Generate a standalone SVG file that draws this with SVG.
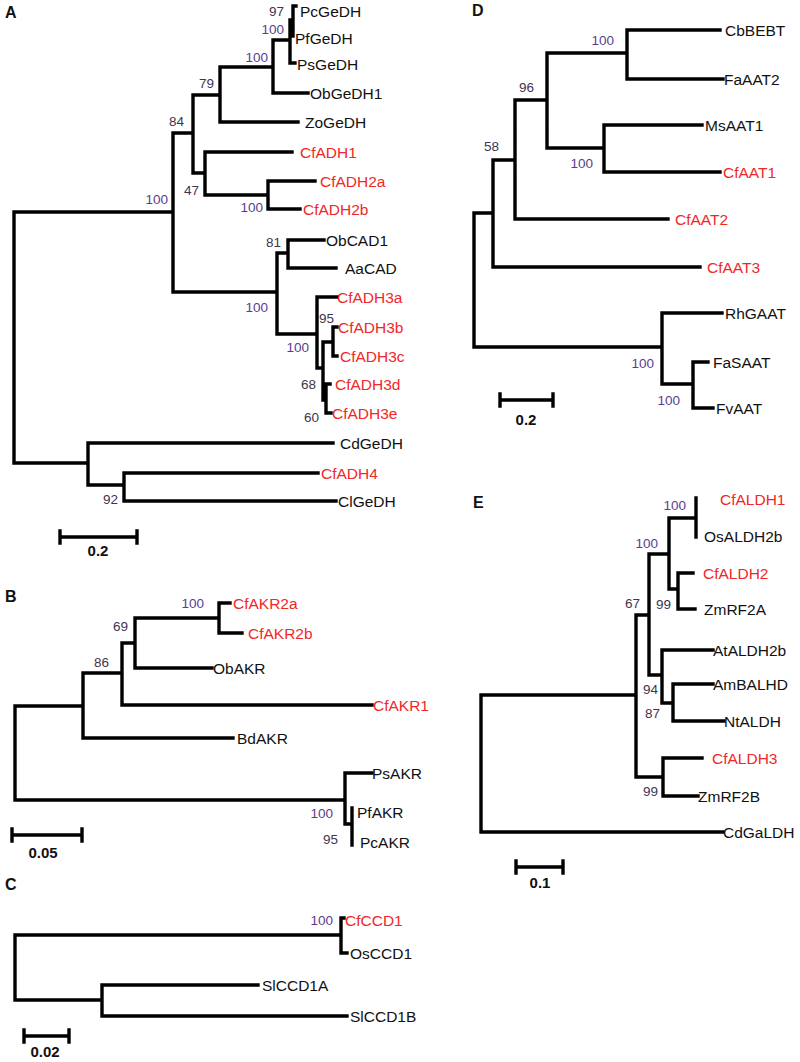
<svg xmlns="http://www.w3.org/2000/svg" width="800" height="1062" viewBox="0 0 800 1062">
<style>
.br{fill:none;stroke:#000;stroke-width:3.4;stroke-linecap:square}
.lf{font-family:"Liberation Sans",Arial,sans-serif;font-size:15.5px;fill:#111;dominant-baseline:central}
.red{fill:#f02828}
.bs{font-family:"Liberation Sans",Arial,sans-serif;font-size:13.5px;fill:#3c3650;text-anchor:end}
.bp{fill:#5b3d8c}
.pl{font-family:"Liberation Sans",Arial,sans-serif;font-size:16px;font-weight:bold;fill:#111}
.sc{font-family:"Liberation Sans",Arial,sans-serif;font-size:15px;font-weight:bold;fill:#111;text-anchor:middle}
</style>
<rect width="800" height="1062" fill="#fff"/>
<g id="connectors">
<path class="br" d="M14,212V463M14,212H173M14,463H88M173,133V292M173,133H193M173,292H277M193,95V173M193,95H220M193,173H205M220,67V122M220,67H273M220,122H298M273,40V93M273,40H290M273,93H308M290,20V63M290,63H295M290,20H293M293,6V36M293,6H296M205,152V195M205,152H292M205,195H268M268,181V209M268,181H315M268,209H300M277,253V334M277,253H288M277,334H317M288,240V268M288,240H324M288,268H336M317,297V368M317,297H337M317,368H323M323,342V400M323,342H333M333,327V356M333,327H337M333,356H337M323,400H326M326,384V413M326,384H330M326,413H331M88,443V485M88,443H333M88,485H124M124,473V501M124,473H318M124,501H336"/>
<path class="br" d="M60,537H137M60,531V543M137,531V543"/>
<path class="br" d="M15,706V800M15,706H83M15,800H345M83,673V738M83,673H122M83,738H233M122,643V705M122,643H135M122,705H372M135,618V668M135,618H219M135,668H212M219,603V633M219,603H230M219,633H242M345,773V824M345,773H372M345,824H352M352,808V845"/>
<path class="br" d="M12,835H82M12,829V841M82,829V841"/>
<path class="br" d="M15,935V1000M15,935H341M15,1000H102M341,918V953M341,918H344M341,953H347M102,985V1016M102,985H258M102,1016H347"/>
<path class="br" d="M24,1036H69M24,1030V1042M69,1030V1042"/>
<path class="br" d="M474,213V347M474,213H493M474,347H662M493,160V267M493,160H515M493,267H700M515,100V219M515,100H547M515,219H668M547,53V148M547,53H627M547,148H604M627,30V79M627,30H720M627,79H723M604,125V172M604,125H702M604,172H720M662,313V384M662,313H722M662,384H693M693,362V408M693,362H708M693,408H713"/>
<path class="br" d="M500,400H553M500,394V406M553,394V406"/>
<path class="br" d="M481,695V832M481,695H636M481,832H723M636,615V777M636,615H649M636,777H663M649,554V675M649,554H669M649,675H662M669,518V589M669,518H696M669,589H678M696,498V537M678,573V609M678,573H693M678,609H695M662,650V703M662,650H713M662,703H673M673,684V721M673,684H713M673,721H724M663,758V796M663,758H702M663,796H698"/>
<path class="br" d="M516,867H563M516,861V873M563,861V873"/>
</g>
<g id="panel-labels">
<text class="pl" x="5" y="18">A</text>
<text class="pl" x="5" y="602">B</text>
<text class="pl" x="5" y="890">C</text>
<text class="pl" x="472" y="16">D</text>
<text class="pl" x="473" y="508">E</text>
</g>
<g id="scale-bars">
<text class="sc" x="98" y="556">0.2</text>
<text class="sc" x="43" y="858">0.05</text>
<text class="sc" x="45" y="1057">0.02</text>
<text class="sc" x="526" y="425">0.2</text>
<text class="sc" x="540" y="888">0.1</text>
</g>
<g id="A-leaves">
<g id="PcGeDH"><text class="lf" x="300" y="11">PcGeDH</text></g>
<g id="PfGeDH"><text class="lf" x="295" y="38">PfGeDH</text></g>
<g id="PsGeDH"><text class="lf" x="297" y="64">PsGeDH</text></g>
<g id="ObGeDH1"><text class="lf" x="310" y="93">ObGeDH1</text></g>
<g id="ZoGeDH"><text class="lf" x="305" y="122">ZoGeDH</text></g>
<g id="CfADH1"><text class="lf red" x="300" y="152">CfADH1</text></g>
<g id="CfADH2a"><text class="lf red" x="320" y="181">CfADH2a</text></g>
<g id="CfADH2b"><text class="lf red" x="303" y="209">CfADH2b</text></g>
<g id="ObCAD1"><text class="lf" x="326" y="240">ObCAD1</text></g>
<g id="AaCAD"><text class="lf" x="345" y="268">AaCAD</text></g>
<g id="CfADH3a"><text class="lf red" x="337" y="297">CfADH3a</text></g>
<g id="CfADH3b"><text class="lf red" x="338" y="327">CfADH3b</text></g>
<g id="CfADH3c"><text class="lf red" x="340" y="356">CfADH3c</text></g>
<g id="CfADH3d"><text class="lf red" x="335" y="384">CfADH3d</text></g>
<g id="CfADH3e"><text class="lf red" x="332" y="413">CfADH3e</text></g>
<g id="CdGeDH"><text class="lf" x="340" y="443">CdGeDH</text></g>
<g id="CfADH4"><text class="lf red" x="321" y="473">CfADH4</text></g>
<g id="ClGeDH"><text class="lf" x="338" y="501">ClGeDH</text></g>
</g>
<g id="A-support">
<text class="bs" x="284" y="16">97</text>
<text class="bs bp" x="284" y="34">100</text>
<text class="bs bp" x="268" y="62">100</text>
<text class="bs" x="214" y="88">79</text>
<text class="bs" x="184" y="126">84</text>
<text class="bs" x="199" y="195">47</text>
<text class="bs bp" x="263" y="212">100</text>
<text class="bs bp" x="168" y="204">100</text>
<text class="bs" x="281" y="247">81</text>
<text class="bs bp" x="268" y="312">100</text>
<text class="bs" x="334" y="323">95</text>
<text class="bs bp" x="309" y="352">100</text>
<text class="bs" x="316" y="389">68</text>
<text class="bs" x="319" y="422">60</text>
<text class="bs" x="118" y="504">92</text>
</g>
<g id="B-leaves">
<g id="CfAKR2a"><text class="lf red" x="233" y="603">CfAKR2a</text></g>
<g id="CfAKR2b"><text class="lf red" x="248" y="633">CfAKR2b</text></g>
<g id="ObAKR"><text class="lf" x="213" y="668">ObAKR</text></g>
<g id="CfAKR1"><text class="lf red" x="373" y="705">CfAKR1</text></g>
<g id="BdAKR"><text class="lf" x="237" y="738">BdAKR</text></g>
<g id="PsAKR"><text class="lf" x="372" y="773">PsAKR</text></g>
<g id="PfAKR"><text class="lf" x="357" y="812">PfAKR</text></g>
<g id="PcAKR"><text class="lf" x="360" y="842">PcAKR</text></g>
</g>
<g id="B-support">
<text class="bs bp" x="204" y="608">100</text>
<text class="bs" x="128" y="631">69</text>
<text class="bs" x="109" y="667">86</text>
<text class="bs bp" x="333" y="818">100</text>
<text class="bs" x="338" y="844">95</text>
</g>
<g id="C-leaves">
<g id="CfCCD1"><text class="lf red" x="345" y="920">CfCCD1</text></g>
<g id="OsCCD1"><text class="lf" x="350" y="953">OsCCD1</text></g>
<g id="SlCCD1A"><text class="lf" x="262" y="985">SlCCD1A</text></g>
<g id="SlCCD1B"><text class="lf" x="350" y="1016">SlCCD1B</text></g>
</g>
<g id="C-support">
<text class="bs bp" x="333" y="925">100</text>
</g>
<g id="D-leaves">
<g id="CbBEBT"><text class="lf" x="725" y="30">CbBEBT</text></g>
<g id="FaAAT2"><text class="lf" x="724" y="79">FaAAT2</text></g>
<g id="MsAAT1"><text class="lf" x="705" y="125">MsAAT1</text></g>
<g id="CfAAT1"><text class="lf red" x="723" y="172">CfAAT1</text></g>
<g id="CfAAT2"><text class="lf red" x="675" y="219">CfAAT2</text></g>
<g id="CfAAT3"><text class="lf red" x="707" y="267">CfAAT3</text></g>
<g id="RhGAAT"><text class="lf" x="725" y="313">RhGAAT</text></g>
<g id="FaSAAT"><text class="lf" x="713" y="362">FaSAAT</text></g>
<g id="FvAAT"><text class="lf" x="716" y="408">FvAAT</text></g>
</g>
<g id="D-support">
<text class="bs bp" x="614" y="45">100</text>
<text class="bs" x="534" y="92">96</text>
<text class="bs" x="499" y="151">58</text>
<text class="bs bp" x="593" y="168">100</text>
<text class="bs bp" x="654" y="368">100</text>
<text class="bs bp" x="680" y="405">100</text>
</g>
<g id="E-leaves">
<g id="CfALDH1"><text class="lf red" x="720" y="499">CfALDH1</text></g>
<g id="OsALDH2b"><text class="lf" x="704" y="536">OsALDH2b</text></g>
<g id="CfALDH2"><text class="lf red" x="703" y="573">CfALDH2</text></g>
<g id="ZmRF2A"><text class="lf" x="704" y="609">ZmRF2A</text></g>
<g id="AtALDH2b"><text class="lf" x="713" y="650">AtALDH2b</text></g>
<g id="AmBALHD"><text class="lf" x="713" y="684">AmBALHD</text></g>
<g id="NtALDH"><text class="lf" x="724" y="721">NtALDH</text></g>
<g id="CfALDH3"><text class="lf red" x="712" y="758">CfALDH3</text></g>
<g id="ZmRF2B"><text class="lf" x="698" y="796">ZmRF2B</text></g>
<g id="CdGaLDH"><text class="lf" x="723" y="832">CdGaLDH</text></g>
</g>
<g id="E-support">
<text class="bs bp" x="686" y="510">100</text>
<text class="bs bp" x="658" y="548">100</text>
<text class="bs" x="640" y="608">67</text>
<text class="bs" x="671" y="609">99</text>
<text class="bs" x="658" y="694">94</text>
<text class="bs" x="660" y="718">87</text>
<text class="bs" x="658" y="796">99</text>
</g>
</svg>
